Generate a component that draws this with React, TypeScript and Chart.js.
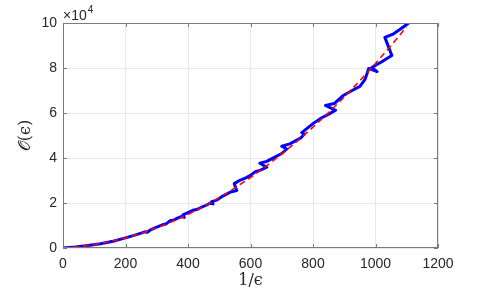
import React, { useEffect, useRef } from "react";
import { Chart, registerables } from "chart.js";

Chart.register(...registerables);

// Blue (measured) curve, y in units of 10^4
const blueX = [0, 40, 80, 120, 160, 200, 230, 250, 262, 270, 280, 300, 318, 330, 342, 356, 368, 380, 388, 384, 400, 417, 430, 440, 458, 470, 480, 476, 492, 508, 522, 536, 556, 548, 566, 585, 600, 614, 632, 652, 630, 652, 678, 700, 716, 700, 726, 745, 760, 772, 764, 782, 802, 828, 852, 872, 840, 868, 897, 925, 950, 966, 973, 978, 1005, 988, 1020, 1052, 1030, 1058, 1080, 1105];
const blueY = [0, 0.04, 0.11, 0.19, 0.3, 0.45, 0.57, 0.66, 0.72, 0.7, 0.81, 0.93, 1.03, 1.07, 1.21, 1.25, 1.34, 1.4, 1.36, 1.47, 1.57, 1.68, 1.72, 1.79, 1.9, 1.99, 1.96, 2.06, 2.13, 2.28, 2.38, 2.49, 2.55, 2.86, 3.01, 3.12, 3.23, 3.38, 3.46, 3.59, 3.77, 3.85, 4.04, 4.2, 4.4, 4.52, 4.63, 4.77, 4.88, 5.06, 5.13, 5.33, 5.55, 5.79, 5.96, 6.12, 6.34, 6.42, 6.78, 7.0, 7.18, 7.48, 7.76, 7.98, 7.84, 8.02, 8.28, 8.56, 9.36, 9.52, 9.73, 9.99];

// Red dashed (fit) curve, y in units of 10^4
const redX = [0, 50, 100, 150, 200, 250, 300, 350, 400, 450, 500, 550, 600, 650, 700, 750, 800, 850, 900, 950, 1000, 1050, 1100];
const redY = [0, 0.057, 0.15, 0.281, 0.45, 0.655, 0.898, 1.177, 1.494, 1.849, 2.24, 2.669, 3.134, 3.637, 4.178, 4.755, 5.37, 6.021, 6.71, 7.437, 8.2, 9.001, 9.838];

const xMin = 0, xMax = 1200, xStep = 200;
const yMin = 0, yMax = 10, yStep = 2;
const yExponent = "4";
const xTitle = "1/ϵ";
const yTitle = "𝒪(ϵ)";

const AXIS_COLOR = "#7a7a7a";
const TEXT_COLOR = "#262626";
const GRID_COLOR = "#e8e8e8";
const TICK_FONT = '"Liberation Sans", Arial, sans-serif';

const boxPlugin = {
  id: "matlabBox",
  afterDraw(chart: any) {
    const { ctx, chartArea } = chart;
    const { left, right, top, bottom } = chartArea;
    const xs = chart.scales.x;
    const ys = chart.scales.y;
    ctx.save();
    ctx.strokeStyle = AXIS_COLOR;
    ctx.lineWidth = 1;
    ctx.strokeRect(left + 0.5, top + 0.5, right - left - 1, bottom - top - 1);
    const tl = 4;
    ctx.beginPath();
    xs.ticks.forEach((t: any) => {
      const px = Math.round(xs.getPixelForValue(t.value)) + 0.5;
      ctx.moveTo(px, bottom);
      ctx.lineTo(px, bottom - tl);
      ctx.moveTo(px, top);
      ctx.lineTo(px, top + tl);
    });
    ys.ticks.forEach((t: any) => {
      const py = Math.round(ys.getPixelForValue(t.value)) + 0.5;
      ctx.moveTo(left, py);
      ctx.lineTo(left + tl, py);
      ctx.moveTo(right, py);
      ctx.lineTo(right - tl, py);
    });
    ctx.stroke();
    // exponent label
    ctx.fillStyle = TEXT_COLOR;
    ctx.textAlign = "left";
    ctx.textBaseline = "alphabetic";
    ctx.font = `14px ${TICK_FONT}`;
    const base = "×10";
    ctx.fillText(base, left, top - 3);
    const w = ctx.measureText(base).width;
    ctx.font = `10px ${TICK_FONT}`;
    ctx.fillText(yExponent, left + w + 1, top - 10);
    ctx.restore();
  },
};

export default function App() {
  const ref = useRef<HTMLCanvasElement | null>(null);
  useEffect(() => {
    document.body.style.margin = "0";
    const canvas = ref.current;
    if (!canvas) return;
    const chart = new Chart(canvas, {
      type: "scatter",
      data: {
        datasets: [
          {
            label: "fit",
            data: redX.map((x, i) => ({ x, y: redY[i] })),
            showLine: true,
            borderColor: "#ff0000",
            backgroundColor: "#ff0000",
            borderWidth: 1.6,
            borderDash: [6, 4],
            pointRadius: 0,
            tension: 0,
          },
          {
            label: "measured",
            data: blueX.map((x, i) => ({ x, y: blueY[i] })),
            showLine: true,
            borderColor: "#0000ff",
            backgroundColor: "#0000ff",
            borderWidth: 3,
            pointRadius: 0,
            tension: 0,
            borderJoinStyle: "round",
            borderCapStyle: "round",
          },
        ],
      },
      options: {
        animation: false,
        responsive: false,
        maintainAspectRatio: false,
        layout: { padding: { top: 23, right: 47, left: 0, bottom: 0 } },
        plugins: { legend: { display: false }, tooltip: { enabled: false } },
        scales: {
          x: {
            type: "linear",
            min: xMin,
            max: xMax,
            afterFit: (s: any) => { s.height = 45; },
            border: { display: false },
            grid: { color: GRID_COLOR, drawTicks: false, lineWidth: 1 },
            ticks: {
              stepSize: xStep,
              color: TEXT_COLOR,
              padding: 8,
              maxRotation: 0,
              font: { family: TICK_FONT, size: 14 },
              callback: (v: any) => String(v),
            },
            title: {
              display: true,
              text: xTitle,
              color: TEXT_COLOR,
              font: { family: '"DejaVu Serif", serif', size: 16 },
              padding: { top: 0, bottom: 3 },
            },
          },
          y: {
            type: "linear",
            min: yMin,
            max: yMax,
            afterFit: (s: any) => { s.width = 63; },
            border: { display: false },
            grid: { color: GRID_COLOR, drawTicks: false, lineWidth: 1 },
            ticks: {
              stepSize: yStep,
              color: TEXT_COLOR,
              padding: 6,
              font: { family: TICK_FONT, size: 14 },
              callback: (v: any) => String(v),
            },
            title: {
              display: true,
              text: yTitle,
              color: TEXT_COLOR,
              font: { family: '"DejaVu Serif", serif', size: 16 },
              padding: { top: 16, bottom: 0 },
            },
          },
        },
      },
      plugins: [boxPlugin],
    });
    return () => chart.destroy();
  }, []);
  return (
    <div style={{ width: 485, height: 293, background: "#fff" }}>
      <canvas ref={ref} width={485} height={293} style={{ display: "block" }} />
    </div>
  );
}
